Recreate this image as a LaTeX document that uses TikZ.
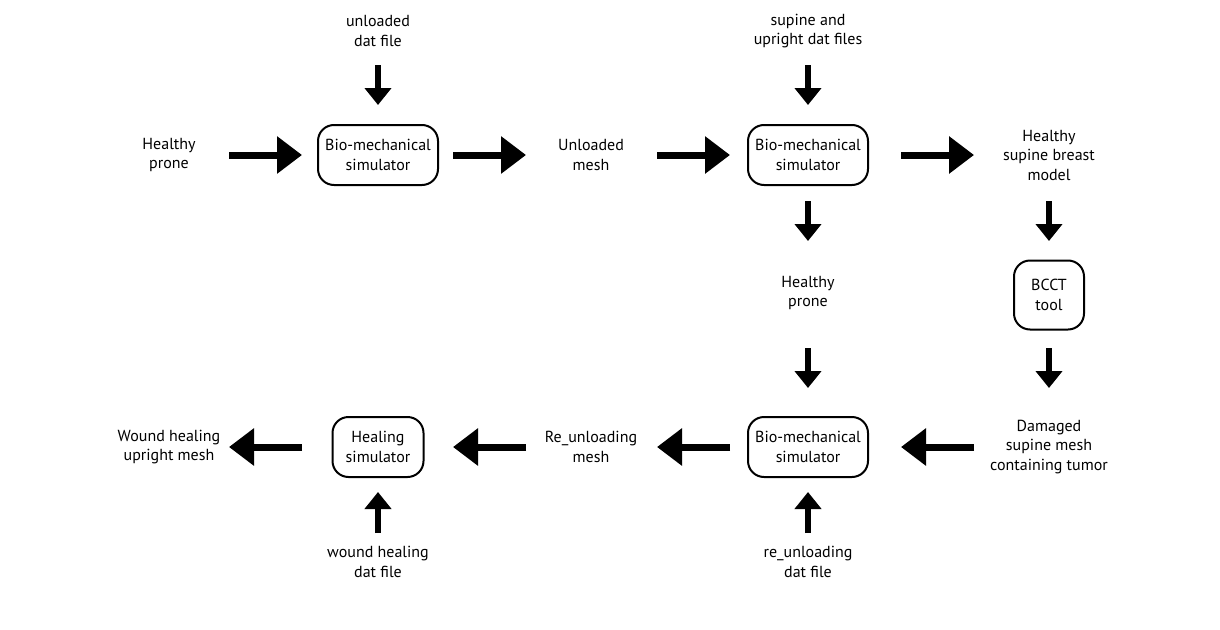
\documentclass[tikz,border=0pt]{standalone}
\usepackage{fontspec}
\setmainfont{PT Sans}
\usetikzlibrary{arrows.meta}

\begin{document}
\begin{tikzpicture}[x=1pt, y=-1pt,
  every node/.style={font=\fontsize{16}{19.5}\selectfont, align=center},
  simbox/.style={draw, line width=2pt, rounded corners=16pt, minimum height=60pt},
  harrow/.style={line width=7pt, -{Triangle[length=25pt, width=36pt]}},
  varrow/.style={line width=6pt, -{Triangle[length=17pt, width=26pt]}}]
\useasboundingbox (0,0) rectangle (1220,629);

% top row
\node (udat)  at (378,31)  {unloaded\\dat file};
\node (sudat) at (808,31)  {supine and\\upright dat files};

\node (hprone) at (169,155)  {Healthy\\prone};
\node[simbox, minimum width=120pt] (bio1) at (378,155) {Bio-mechanical\\simulator};
\node (unl)    at (591,155)  {Unloaded\\mesh};
\node[simbox, minimum width=120pt] (bio2) at (808,155) {Bio-mechanical\\simulator};
\node (model)  at (1049,155) {Healthy\\supine breast\\model};

% middle
\node (hprone2) at (808,293) {Healthy\\prone};
\node[simbox, minimum width=70pt, minimum height=69pt] (bcct) at (1049,295) {BCCT\\tool};

% bottom row
\node (wound)  at (169,447)  {Wound healing\\upright mesh};
\node[simbox, minimum width=91pt] (heal) at (378,447) {Healing\\simulator};
\node (reun)   at (591,447)  {Re\_unloading\\mesh};
\node[simbox, minimum width=120pt] (bio3) at (808,447) {Bio-mechanical\\simulator};
\node (damaged) at (1049,447) {Damaged\\supine mesh\\containing tumor};

\node (wdat)  at (378,562) {wound healing\\dat file};
\node (rdat)  at (808,562) {re\_unloading\\dat file};

% arrows
\draw[varrow, shorten <=34pt, shorten >=50pt] (udat.center) -- (bio1.center);
\draw[varrow, shorten <=34pt, shorten >=50pt] (sudat.center) -- (bio2.center);

\draw[harrow, shorten <=60pt, shorten >=76pt] (hprone.center) -- (bio1.center);
\draw[harrow, shorten <=75pt, shorten >=65pt] (bio1.center) -- (unl.center);
\draw[harrow, shorten <=66pt, shorten >=78pt] (unl.center) -- (bio2.center);
\draw[harrow, shorten <=93pt, shorten >=75pt] (bio2.center) -- (model.center);

\draw[varrow, shorten <=46pt, shorten >=52pt] (bio2.center) -- (hprone2.center);
\draw[varrow, shorten <=55pt, shorten >=59pt] (hprone2.center) -- (bio3.center);
\draw[varrow, shorten <=46pt, shorten >=54pt] (model.center) -- (bcct.center);
\draw[varrow, shorten <=53pt, shorten >=59pt] (bcct.center) -- (damaged.center);

\draw[harrow, shorten <=75pt, shorten >=93pt] (damaged.center) -- (bio3.center);
\draw[harrow, shorten <=78pt, shorten >=66pt] (bio3.center) -- (reun.center);
\draw[harrow, shorten <=65pt, shorten >=75pt] (reun.center) -- (heal.center);
\draw[harrow, shorten <=76pt, shorten >=60pt] (heal.center) -- (wound.center);

\draw[varrow, shorten <=29pt, shorten >=45pt] (wdat.center) -- (heal.center);
\draw[varrow, shorten <=29pt, shorten >=45pt] (rdat.center) -- (bio3.center);

\end{tikzpicture}
\end{document}
